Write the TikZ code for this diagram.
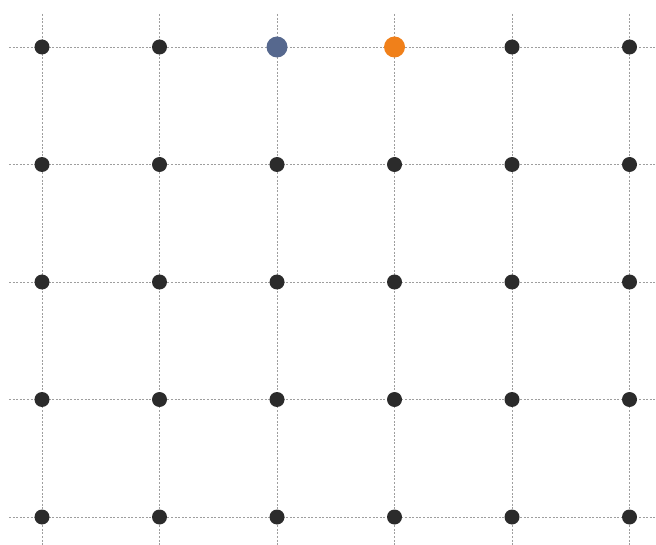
\documentclass[tikz,border=0pt]{standalone}
\begin{document}
\begin{tikzpicture}[x=1pt,y=-1pt,
  gridline/.style={draw=black!38, line width=0.9pt, dash pattern=on 2pt off 1.6pt},
  dotb/.style={circle, fill=black!83, inner sep=0pt, minimum size=15pt},
  dotblue/.style={circle, fill={rgb,255:red,86;green,104;blue,142}, inner sep=0pt, minimum size=21pt},
  dotorange/.style={circle, fill={rgb,255:red,240;green,128;blue,26}, inner sep=0pt, minimum size=21pt}]
\useasboundingbox (0,0) rectangle (656,545);
\foreach \x in {42,159.5,277,394.5,512,629.5} \draw[gridline] (\x,14) -- (\x,545);
\foreach \y in {47,164.5,282,399.5,517} \draw[gridline] (9,\y) -- (656,\y);
\foreach \x [count=\i] in {42,159.5,277,394.5,512,629.5} {
  \foreach \y [count=\j] in {47,164.5,282,399.5,517} {
    \ifnum\j=1
      \ifnum\i=3 \node[dotblue] (n\i\j) at (\x,\y) {};
      \else\ifnum\i=4 \node[dotorange] (n\i\j) at (\x,\y) {};
      \else \node[dotb] (n\i\j) at (\x,\y) {};
      \fi\fi
    \else \node[dotb] (n\i\j) at (\x,\y) {};
    \fi
  }
}
\end{tikzpicture}
\end{document}
